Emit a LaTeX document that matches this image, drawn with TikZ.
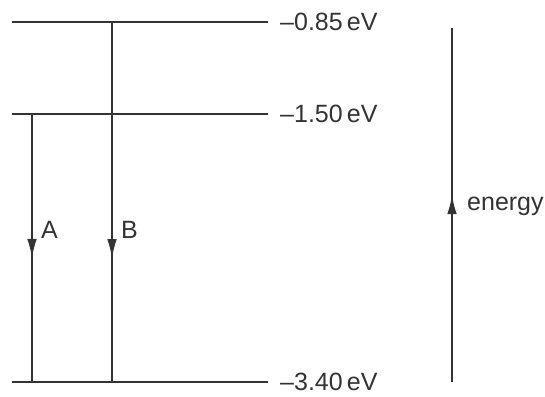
\documentclass[tikz,border=0pt]{standalone}
\usepackage{fontspec}
\setmainfont{Liberation Sans}
\usepackage{tikz}
\usetikzlibrary{arrows.meta, decorations.markings}
\definecolor{dark}{HTML}{333333}
\tikzset{
    levelline/.style={line width=1.4pt, color=dark},
    transline/.style={
        line width=1.4pt, color=dark,
        decoration={markings, mark=at position #1 with {\arrow{Latex[length=19pt, width=9.5pt]}}},
        postaction={decorate}
    },
    levellab/.style={anchor=west, inner sep=0pt, font=\fontsize{25}{28}\selectfont, text=dark},
    translab/.style={anchor=west, inner sep=0pt, font=\fontsize{25}{28}\selectfont, text=dark},
}
\begin{document}
\begin{tikzpicture}[x=1pt, y=-1pt]
    \useasboundingbox (0,0) rectangle (545,396);

    % Energy levels
    \coordinate (top) at (12,22);
    \coordinate (mid) at (12,114);
    \coordinate (low) at (12,382);
    \node[levellab] (etop) at (280,22) {\textendash0.85\,eV};
    \node[levellab] (emid) at (280,114) {\textendash1.50\,eV};
    \node[levellab] (elow) at (280,382) {\textendash3.40\,eV};
    \draw[levelline] (top) -- ([xshift=-12pt]etop.west);
    \draw[levelline] (mid) -- ([xshift=-12pt]emid.west);
    \draw[levelline] (low) -- ([xshift=-12pt]elow.west);

    % Transitions
    \coordinate (astart) at (32,114);
    \coordinate (aend) at (32,382);
    \coordinate (bstart) at (112,22);
    \coordinate (bend) at (112,382);
    \draw[transline=0.537] (astart) -- (aend);
    \draw[transline=0.656] (bstart) -- (bend);
    \node[translab] (lab-a) at (41,230) {A};
    \node[translab] (lab-b) at (121,230) {B};

    % Energy axis
    \coordinate (ebot) at (452,382);
    \coordinate (etopaxis) at (452,28);
    \draw[transline=0.528] (ebot) -- (etopaxis);
    \node[translab] (lab-e) at (467,206) {energy};

\end{tikzpicture}
\end{document}
